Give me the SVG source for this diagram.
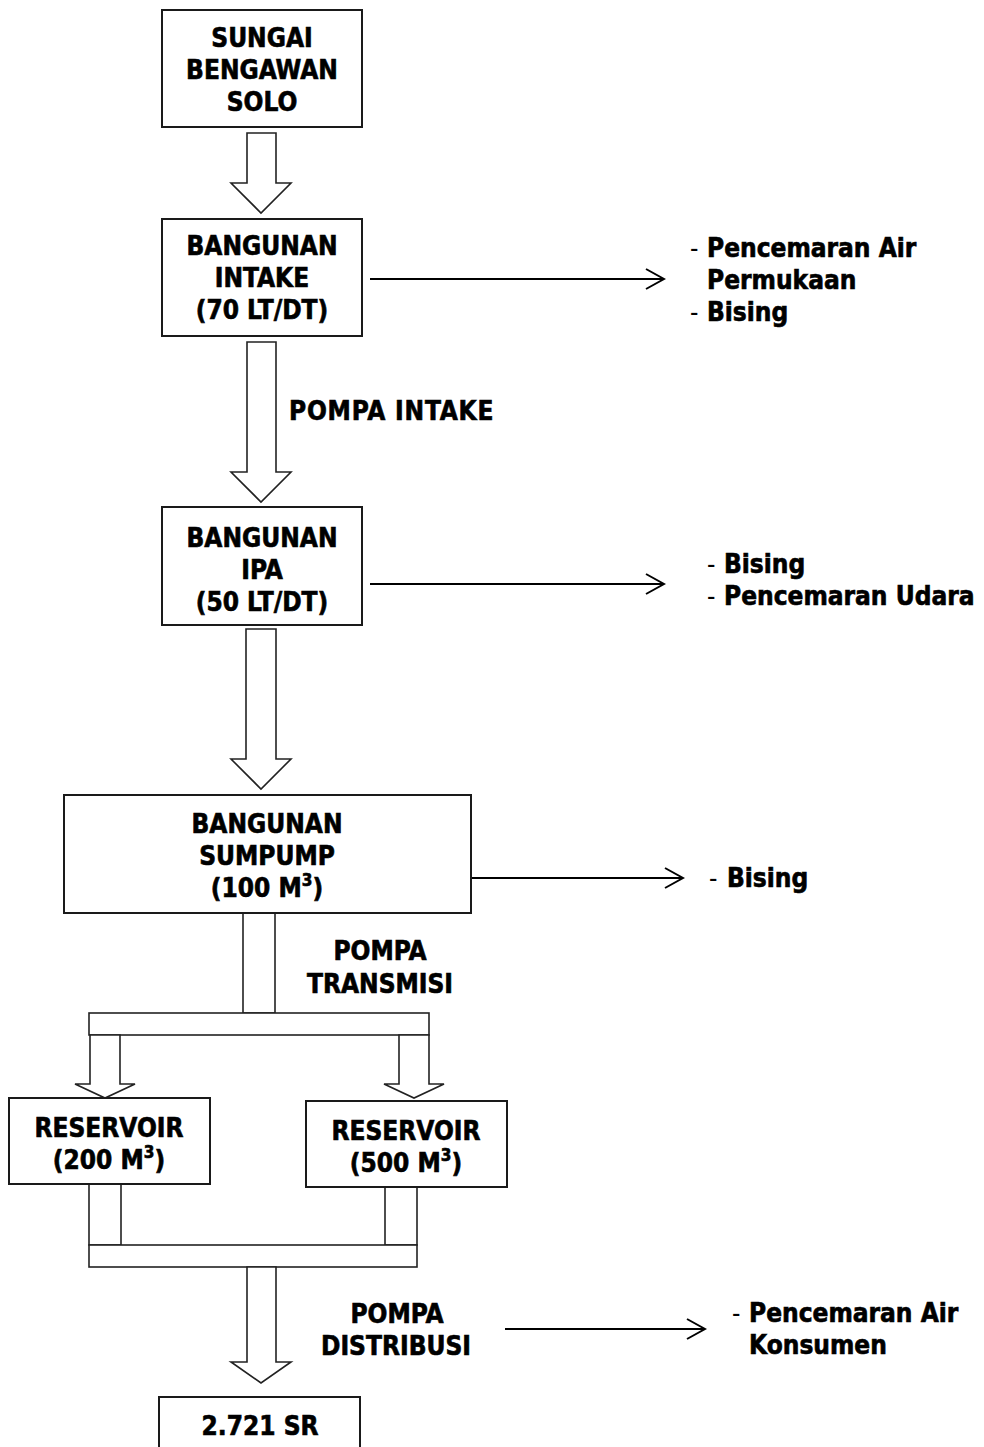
<svg xmlns="http://www.w3.org/2000/svg" width="984" height="1447" viewBox="0 0 984 1447">
<defs>
<style>
.box{fill:#fff;stroke:#1a1a1a;stroke-width:2}
.blk{fill:#fff;stroke:#222;stroke-width:1.6;stroke-linejoin:miter}
.ln{fill:none;stroke:#000;stroke-width:2}
text{font-family:"DejaVu Sans Condensed","DejaVu Sans","Liberation Sans",sans-serif;font-size:26px;font-weight:bold;fill:#000;stroke:#000;stroke-width:0.6}
.c{text-anchor:middle}
.d{font-weight:normal;stroke-width:0}
.sup{font-size:17px}
</style>
<marker id="chev" viewBox="0 0 22 22" refX="20" refY="11" markerWidth="22" markerHeight="22" markerUnits="userSpaceOnUse" orient="auto">
<path d="M2,1 L20,11 L2,21" fill="none" stroke="#000" stroke-width="2"/>
</marker>
</defs>
<rect width="984" height="1447" fill="#fff"/>

<g id="connectors">
<polygon class="blk" points="247,133 276,133 276,183 291,183 261,213 231,183 247,183"/>
<polygon class="blk" points="247,342 276,342 276,472 291,472 261,502 231,472 247,472"/>
<polygon class="blk" points="246,629 276,629 276,759 291,759 261,789 231,759 246,759"/>
<rect class="blk" x="243" y="913" width="32" height="100"/>
<rect class="blk" x="89" y="1013" width="340" height="22"/>
<polygon class="blk" points="90,1035 120,1035 120,1084 135,1084 105,1098 75,1084 90,1084"/>
<polygon class="blk" points="399,1035 429,1035 429,1084 444,1084 414,1098 384,1084 399,1084"/>
<rect class="blk" x="89" y="1184" width="32" height="61"/>
<rect class="blk" x="385" y="1187" width="32" height="58"/>
<rect class="blk" x="89" y="1245" width="328" height="22"/>
<polygon class="blk" points="247,1267 276,1267 276,1362 291,1362 261,1383 231,1362 247,1362"/>
<line class="ln" x1="370" y1="279" x2="664" y2="279" marker-end="url(#chev)"/>
<line class="ln" x1="370" y1="584" x2="664" y2="584" marker-end="url(#chev)"/>
<line class="ln" x1="470" y1="878" x2="683" y2="878" marker-end="url(#chev)"/>
<line class="ln" x1="505" y1="1329" x2="705" y2="1329" marker-end="url(#chev)"/>
<text x="289" y="420" letter-spacing="0.8">POMPA INTAKE</text>
<text class="c" x="380" y="960">POMPA</text>
<text class="c" x="380" y="993">TRANSMISI</text>
<text class="c" x="397" y="1323">POMPA</text>
<text class="c" x="396" y="1355">DISTRIBUSI</text>
</g>

<g id="n-sungai">
<rect class="box" x="162" y="10" width="200" height="117"/>
<text class="c" x="262" y="47">SUNGAI</text>
<text class="c" x="262" y="79">BENGAWAN</text>
<text class="c" x="262" y="111">SOLO</text>
</g>

<g id="n-intake">
<rect class="box" x="162" y="219" width="200" height="117"/>
<text class="c" x="262" y="255">BANGUNAN</text>
<text class="c" x="262" y="287">INTAKE</text>
<text class="c" x="262" y="319">(70 LT/DT)</text>
</g>

<g id="n-intake-impact">
<text class="d" x="690" y="257">-</text>
<text x="707" y="257">Pencemaran Air</text>
<text x="707" y="289">Permukaan</text>
<text class="d" x="690" y="321">-</text>
<text x="707" y="321">Bising</text>
</g>

<g id="n-ipa">
<rect class="box" x="162" y="507" width="200" height="118"/>
<text class="c" x="262" y="547">BANGUNAN</text>
<text class="c" x="262" y="579">IPA</text>
<text class="c" x="262" y="611">(50 LT/DT)</text>
</g>

<g id="n-ipa-impact">
<text class="d" x="707" y="573">-</text>
<text x="724" y="573">Bising</text>
<text class="d" x="707" y="605">-</text>
<text x="724" y="605">Pencemaran Udara</text>
</g>

<g id="n-sumpump">
<rect class="box" x="64" y="795" width="407" height="118"/>
<text class="c" x="267" y="833">BANGUNAN</text>
<text class="c" x="267" y="865">SUMPUMP</text>
<text class="c" x="267" y="897">(100 M<tspan class="sup" dy="-11">3</tspan><tspan dy="11">)</tspan></text>
</g>

<g id="n-sumpump-impact">
<text class="d" x="709" y="887">-</text>
<text x="727" y="887">Bising</text>
</g>

<g id="n-res200">
<rect class="box" x="9" y="1098" width="201" height="86"/>
<text class="c" x="109" y="1137">RESERVOIR</text>
<text class="c" x="109" y="1169">(200 M<tspan class="sup" dy="-11">3</tspan><tspan dy="11">)</tspan></text>
</g>

<g id="n-res500">
<rect class="box" x="306" y="1101" width="201" height="86"/>
<text class="c" x="406" y="1140">RESERVOIR</text>
<text class="c" x="406" y="1172">(500 M<tspan class="sup" dy="-11">3</tspan><tspan dy="11">)</tspan></text>
</g>

<g id="n-distribusi-impact">
<text class="d" x="732" y="1322">-</text>
<text x="749" y="1322">Pencemaran Air</text>
<text x="749" y="1354">Konsumen</text>
</g>

<g id="n-sr">
<rect class="box" x="159" y="1397" width="201" height="70"/>
<text class="c" x="260" y="1435">2.721 SR</text>
</g>
</svg>
